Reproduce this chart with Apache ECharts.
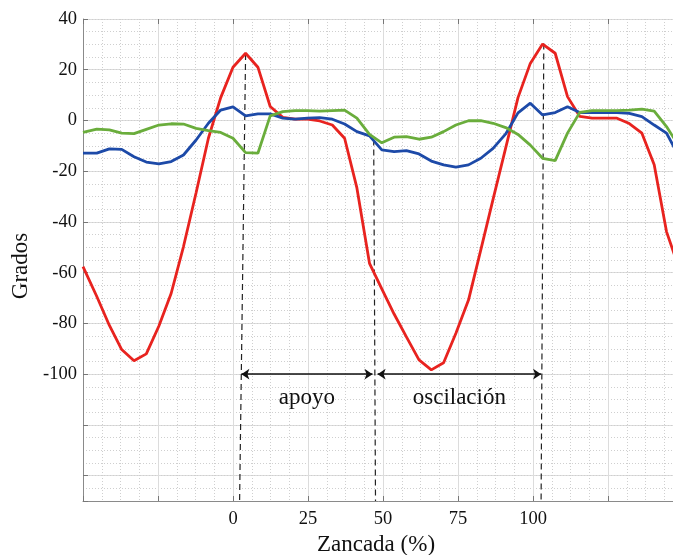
<!DOCTYPE html>
<html>
<head>
<meta charset="utf-8">
<script src="https://cdn.jsdelivr.net/npm/echarts@6/dist/echarts.min.js"></script>
<style>
html,body{margin:0;padding:0;background:#fff;}
#chart{width:673px;height:555px;}
</style>
</head>
<body>
<div id="chart"></div>
<script>
// Stride percentage (x) of each sample
const stride = [-50.0,-45.4,-41.2,-37.1,-33.0,-28.9,-24.7,-20.6,-16.5,-12.3,-8.2,-4.1,0.0,4.2,8.3,12.4,16.6,20.7,24.8,28.9,33.1,37.2,41.3,45.5,49.6,53.7,57.8,62.0,66.1,70.2,74.3,78.5,82.6,86.7,90.9,95.0,99.1,103.2,107.4,111.5,115.6,119.7,123.9,128.0,132.1,136.3,140.4,144.5,148.6];
// Joint angles (degrees)
const redAngle = [-57.6,-69.4,-80.8,-90.3,-94.7,-92.0,-81.0,-68.1,-49.7,-28.5,-7,9,21,26.5,21,5.5,1.2,0.5,0.5,-0.2,-1.8,-7,-26.6,-56.3,-66.4,-76.3,-85.3,-94.4,-98.3,-95.5,-83.9,-70.8,-51,-31,-10.8,9,22.5,30.1,26.5,9.4,1.6,0.9,0.9,0.9,-1.2,-5,-17.5,-43.8,-58];
const blueAngle = [-12.9,-12.9,-11.2,-11.4,-14.3,-16.4,-17.1,-16.2,-13.6,-7.7,-1.1,4.1,5.4,1.8,2.6,2.6,0.9,0.5,0.9,1.1,0.5,-1.4,-4.4,-6.1,-11.6,-12.3,-11.9,-13.2,-16,-17.5,-18.4,-17.5,-14.9,-11,-5.3,3,6.8,2.2,3.1,5.4,3.1,3.1,3.1,3.1,2.8,1.5,-1.8,-5,-14];
const greenAngle = [-4.7,-3.4,-3.7,-5,-5.2,-3.5,-1.8,-1.3,-1.4,-3.1,-4,-4.7,-7,-12.7,-12.9,1.8,3.5,3.9,3.9,3.7,3.9,4.1,0.9,-5.5,-8.8,-6.6,-6.4,-7.4,-6.6,-4.4,-1.8,-0.1,-0.1,-1.1,-2.8,-5.5,-9.7,-14.9,-15.8,-5,3.2,3.9,3.9,3.9,4.1,4.5,3.7,-2.4,-10];
// Gait event markers (dashed lines): [x, y] top and bottom
const eventHeelStrike1 = [[4.2, 26.2], [2.2, -150]];
const eventToeOff = [[46.9, -7.5], [47.5, -150]];
const eventHeelStrike2 = [[103.6, 30.3], [102.7, -150]];
// Phase arrows at y = -100
const phaseNames = ['apoyo', 'oscilación'];
const phaseStart = [2.8, 48.2];
const phaseEnd = [46.5, 102.7];
const phaseLevel = -100;
// Axis ticks
const xTickLabels = [0, 25, 50, 75, 100];
const yTickLabels = [40, 20, 0, -20, -40, -60, -80, -100];

const serif = '"Liberation Serif", "DejaVu Serif", serif';
const zip = (xs, ys) => xs.map((x, i) => [x, ys[i]]);

const chart = echarts.init(document.getElementById('chart'), null, {renderer: 'canvas'});

function dashedSeries(pts, extra) {
  return Object.assign({
    type: 'line', data: pts, showSymbol: false, symbol: 'none', silent: true,
    lineStyle: {color: '#222', width: 1.2, type: [6, 4]}, z: 3
  }, extra || {});
}

const option = {
  backgroundColor: '#ffffff',
  animation: false,
  grid: {left: 83, top: 19, right: -10, bottom: 54, containLabel: false, outerBoundsMode: 'none'},
  xAxis: [{
    type: 'value', min: -50, max: 150, interval: 25,
    axisLine: {show: true, onZero: false, lineStyle: {color: '#8a8a8a', width: 1}},
    axisTick: {show: true, inside: true, length: 5, lineStyle: {color: '#777'}},
    axisLabel: {
      fontFamily: serif, fontSize: 18.5, color: '#111', margin: 9,
      formatter: v => xTickLabels.indexOf(v) >= 0 ? String(v) : ''
    },
    splitLine: {show: true, lineStyle: {color: '#dcdcdc', width: 1}},
    minorTick: {show: false, splitNumber: 4},
    minorSplitLine: {show: true, lineStyle: {color: '#cfcfcf', width: 1, type: [1, 2]}},
    name: 'Zancada (%)', nameLocation: 'middle', nameGap: 31,
    nameTextStyle: {fontFamily: serif, fontSize: 23, color: '#111', padding: [0, 14, 0, 0]}
  }, {
    type: 'value', position: 'top', min: -50, max: 150, interval: 25,
    axisLine: {show: false, onZero: false},
    axisTick: {show: true, inside: true, length: 5, lineStyle: {color: '#777'}},
    axisLabel: {show: false}, splitLine: {show: false}
  }],
  yAxis: [{
    type: 'value', min: -150, max: 40, minInterval: 20, maxInterval: 20,
    axisLine: {show: true, onZero: false, lineStyle: {color: '#8a8a8a', width: 1}},
    axisTick: {show: true, inside: true, length: 5, lineStyle: {color: '#777'}},
    axisLabel: {
      fontFamily: serif, fontSize: 18.5, color: '#111', margin: 6,
      formatter: v => yTickLabels.indexOf(v) >= 0 ? String(v) : ''
    },
    splitLine: {show: true, lineStyle: {color: '#dcdcdc', width: 1}},
    name: 'Grados', nameLocation: 'middle', nameGap: 48,
    nameTextStyle: {fontFamily: serif, fontSize: 23, color: '#111', padding: [0, 12, 0, 0]}
  }, {
    type: 'value', position: 'right', min: -150, max: 40, interval: 5,
    axisLine: {show: false, onZero: false}, axisTick: {show: false}, axisLabel: {show: false},
    splitLine: {show: true, lineStyle: {color: '#cfcfcf', width: 1, type: [1, 2]}}
  }],
  series: [
    dashedSeries(eventHeelStrike1, {
      markLine: {
        silent: true, symbol: ['arrow', 'arrow'], symbolSize: 8, animation: false,
        lineStyle: {color: '#111', width: 1.6, type: 'solid'},
        label: {
          show: true, position: 'insideMiddleBottom', distance: 12,
          formatter: '{b}', fontFamily: serif, fontSize: 23, color: '#111'
        },
        data: phaseNames.map((n, i) => [
          {name: n, coord: [phaseStart[i], phaseLevel]},
          {coord: [phaseEnd[i], phaseLevel]}
        ])
      }
    }),
    dashedSeries(eventToeOff),
    dashedSeries(eventHeelStrike2),
    {type: 'line', data: zip(stride, redAngle), showSymbol: false, symbol: 'none',
     lineStyle: {color: '#e8231f', width: 2.8}, z: 4},
    {type: 'line', data: zip(stride, blueAngle), showSymbol: false, symbol: 'none',
     lineStyle: {color: '#1d4aa8', width: 2.8}, z: 5},
    {type: 'line', data: zip(stride, greenAngle), showSymbol: false, symbol: 'none',
     lineStyle: {color: '#6aad3c', width: 2.8}, z: 6}
  ]
};
chart.setOption(option);
</script>
</body>
</html>
